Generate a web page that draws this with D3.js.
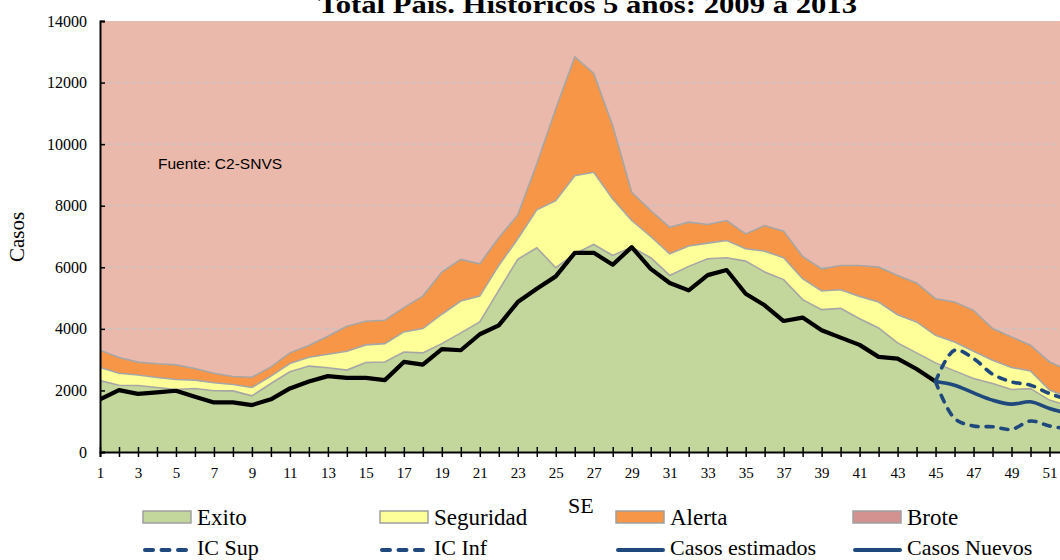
<!DOCTYPE html>
<html>
<head>
<meta charset="utf-8">
<script src="https://cdn.jsdelivr.net/npm/d3@7.9.0/dist/d3.min.js"></script>
<style>
  html, body { margin: 0; padding: 0; background: #fff; }
  svg { display: block; }
  .serif { font-family: "Liberation Serif", "DejaVu Serif", serif; }
</style>
</head>
<body>
<svg id="chart" width="1060" height="560"></svg>
<script>
// Semanas epidemiológicas
const weeks = d3.range(1, 53);

// Corredor endémico (valores de cada franja, apiladas)
const exito = [2320, 2170, 2160, 2095, 2030, 2065, 1990, 1985, 1825, 2225,
  2605, 2790, 2735, 2660, 2905, 2925, 3250, 3220, 3520, 3870,
  4225, 5250, 6260, 6635, 5985, 6440, 6740, 6385, 6655, 6310,
  5735, 6030, 6275, 6310, 6200, 5845, 5600, 4950, 4625, 4665,
  4330, 4030, 3545, 3220, 2895, 2635, 2385, 2225, 2030, 2060,
  1685, 1500];
const seguridad = [425, 390, 340, 325, 325, 270, 260, 210, 270, 240,
  270, 290, 440, 615, 575, 595, 650, 790, 955, 1035,
  840, 810, 665, 1230, 2180, 2535, 2345, 1835, 865, 690,
  705, 660, 510, 560, 400, 680, 710, 680, 605, 605,
  725, 840, 915, 1005, 895, 940, 890, 755, 715, 575,
  325, 280];
const alerta = [560, 510, 420, 445, 475, 375, 310, 255, 335, 300,
  345, 380, 585, 810, 765, 760, 790, 1055, 1370, 1350,
  1050, 900, 775, 1490, 2975, 3860, 3210, 2380, 915, 845,
  860, 775, 605, 650, 485, 830, 865, 720, 720, 790,
  1005, 1135, 1275, 1265, 1190, 1295, 1325, 1030, 995, 835,
  915, 870];

// Casos notificados (semanas 1 a 45)
const casosWeeks = d3.range(1, 46);
const casos = [1710, 2010, 1890, 1935, 1990, 1795, 1610, 1610, 1525, 1710,
  2065, 2290, 2465, 2410, 2410, 2335, 2925, 2840, 3340, 3305,
  3825, 4115, 4870, 5305, 5705, 6470, 6470, 6085, 6655, 5950,
  5490, 5250, 5745, 5910, 5140, 4765, 4255, 4365, 3955, 3715,
  3480, 3090, 3035, 2695, 2290];

// Proyección (semanas 45 a 52)
const estWeeks = d3.range(45, 53);
const casosEstimados = [2290, 2170, 1920, 1685, 1555, 1630, 1415, 1250];
const icSup = [2290, 3305, 3035, 2530, 2280, 2170, 1900, 1700];
const icInf = [2290, 1090, 845, 820, 735, 1005, 845, 750];

const yTicks = d3.range(0, 14001, 2000);
const xLabelWeeks = d3.range(1, 52, 2);

const colors = {
  exito: '#C3D69B',
  seguridad: '#FFFF99',
  alerta: '#F79646',
  brote: '#EBB9AC',
  broteLegend: '#D39190',
  edge: '#A6A6A6',
  blue: '#1F497D'
};

const serifFont = '"Liberation Serif", "DejaVu Serif", serif';

const svg = d3.select('#chart');

const x = d3.scaleLinear().domain([1, 52]).range([100, 100 + 51 * 18.99]);
const y = d3.scaleLinear().domain([0, 14000]).range([452, 21]);

const rows = weeks.map((w, i) => ({
  week: w, exito: exito[i], seguridad: seguridad[i], alerta: alerta[i]
}));
const series = d3.stack().keys(['exito', 'seguridad', 'alerta'])(rows);

svg.append('clipPath').attr('id', 'plot-clip')
  .append('rect')
  .attr('x', x(1)).attr('y', y(14000))
  .attr('width', x(52) - x(1)).attr('height', y(0) - y(14000));

const plot = svg.append('g').attr('clip-path', 'url(#plot-clip)');

// Brote: from the alerta top up to the axis maximum
const alertaLayer = series[2];
plot.append('path')
  .datum(alertaLayer)
  .attr('fill', colors.brote)
  .attr('d', d3.area()
    .x(d => x(d.data.week))
    .y0(d => y(d[1]))
    .y1(y(14000)));

// gridlines
plot.append('g')
  .selectAll('line')
  .data(yTicks.filter(d => d > 0))
  .join('line')
  .attr('x1', x(1)).attr('x2', x(52))
  .attr('y1', d => y(d)).attr('y2', d => y(d))
  .attr('stroke', '#C4C4C4')
  .attr('stroke-width', 1.2)
  .attr('stroke-dasharray', '5,3');

const area = d3.area()
  .x(d => x(d.data.week))
  .y0(d => y(d[0]))
  .y1(d => y(d[1]));

plot.selectAll('.band')
  .data(series)
  .join('path')
  .attr('class', 'band')
  .attr('fill', d => colors[d.key])
  .attr('d', area);

plot.selectAll('.edge')
  .data(series)
  .join('path')
  .attr('class', 'edge')
  .attr('fill', 'none')
  .attr('stroke', colors.edge)
  .attr('stroke-width', 1.6)
  .attr('d', d3.line().x(d => x(d.data.week)).y(d => y(d[1])));

// casos line
plot.append('path')
  .datum(casosWeeks.map((w, i) => [w, casos[i]]))
  .attr('fill', 'none')
  .attr('stroke', '#000')
  .attr('stroke-width', 4.2)
  .attr('stroke-linejoin', 'round')
  .attr('d', d3.line().x(d => x(d[0])).y(d => y(d[1])));

const smooth = d3.line()
  .x(d => x(d[0]))
  .y(d => y(d[1]))
  .curve(d3.curveCatmullRom.alpha(0.5));

[[icSup, '7,8'], [icInf, '7,8'], [casosEstimados, null]].forEach(([vals, dash]) => {
  plot.append('path')
    .datum(estWeeks.map((w, i) => [w, vals[i]]))
    .attr('fill', 'none')
    .attr('stroke', colors.blue)
    .attr('stroke-width', 3.6)
    .attr('stroke-linecap', 'round')
    .attr('stroke-dasharray', dash)
    .attr('d', smooth);
});

// axes
const yAxis = svg.append('g')
  .attr('transform', `translate(${x(1)},0)`)
  .call(d3.axisLeft(y).tickValues(yTicks).tickSize(-5).tickPadding(13).tickFormat(d3.format('d')))
  .attr('font-family', serifFont)
  .attr('font-size', 16);
yAxis.select('.domain').attr('stroke', '#000').attr('stroke-width', 2);
yAxis.selectAll('.tick line').attr('stroke', '#000').attr('stroke-width', 1.5);
yAxis.selectAll('text').attr('fill', '#000');

const xAxis = svg.append('g')
  .attr('transform', `translate(0,${y(0)})`)
  .call(d3.axisBottom(x).tickValues(weeks).tickSize(5).tickPadding(10)
    .tickFormat(d => xLabelWeeks.includes(d) ? d : ''))
  .attr('font-family', serifFont)
  .attr('font-size', 15);
xAxis.select('.domain').attr('stroke', '#000').attr('stroke-width', 2);
xAxis.selectAll('.tick line').attr('y1', -5).attr('stroke', '#000').attr('stroke-width', 1.5);
xAxis.selectAll('text').attr('fill', '#000');

// title
svg.append('text')
  .attr('class', 'serif')
  .attr('x', 318).attr('y', 13)
  .attr('font-size', 25)
  .attr('font-weight', 'bold')
  .attr('textLength', 539)
  .attr('lengthAdjust', 'spacingAndGlyphs')
  .text('Total País. Históricos 5 años: 2009 a 2013');

svg.append('text')
  .attr('class', 'serif')
  .attr('transform', 'translate(24,237) rotate(-90)')
  .attr('text-anchor', 'middle')
  .attr('font-size', 21)
  .text('Casos');

svg.append('text')
  .attr('class', 'serif')
  .attr('x', 568).attr('y', 513)
  .attr('font-size', 22)
  .text('SE');

svg.append('text')
  .attr('x', 158).attr('y', 169)
  .attr('font-family', '"Liberation Sans", Arial, sans-serif')
  .attr('font-size', 15.5)
  .text('Fuente: C2-SNVS');

// legend
const legendAreas = [
  { label: 'Exito', fill: colors.exito, x: 143 },
  { label: 'Seguridad', fill: colors.seguridad, x: 380 },
  { label: 'Alerta', fill: colors.alerta, x: 616 },
  { label: 'Brote', fill: colors.broteLegend, x: 853 }
];
const legendLines = [
  { label: 'IC Sup', dash: '8,8.5', x: 143 },
  { label: 'IC Inf', dash: '8,8.5', x: 380 },
  { label: 'Casos estimados', dash: null, x: 616 },
  { label: 'Casos Nuevos', dash: null, x: 853 }
];

const la = svg.append('g').selectAll('g').data(legendAreas).join('g')
  .attr('transform', d => `translate(${d.x},511)`);
la.append('rect')
  .attr('width', 48).attr('height', 12)
  .attr('fill', d => d.fill)
  .attr('stroke', '#A0A0A0').attr('stroke-width', 1.5);
la.append('text')
  .attr('class', 'serif')
  .attr('x', 54).attr('y', 14)
  .attr('font-size', 23)
  .text(d => d.label);

const ll = svg.append('g').selectAll('g').data(legendLines).join('g')
  .attr('transform', d => `translate(${d.x},550)`);
ll.append('line')
  .attr('x1', 2).attr('x2', 47)
  .attr('stroke', colors.blue).attr('stroke-width', 4)
  .attr('stroke-linecap', 'round')
  .attr('stroke-dasharray', d => d.dash);
ll.append('text')
  .attr('class', 'serif')
  .attr('x', 54).attr('y', 5)
  .attr('font-size', 22)
  .text(d => d.label);
</script>
</body>
</html>
